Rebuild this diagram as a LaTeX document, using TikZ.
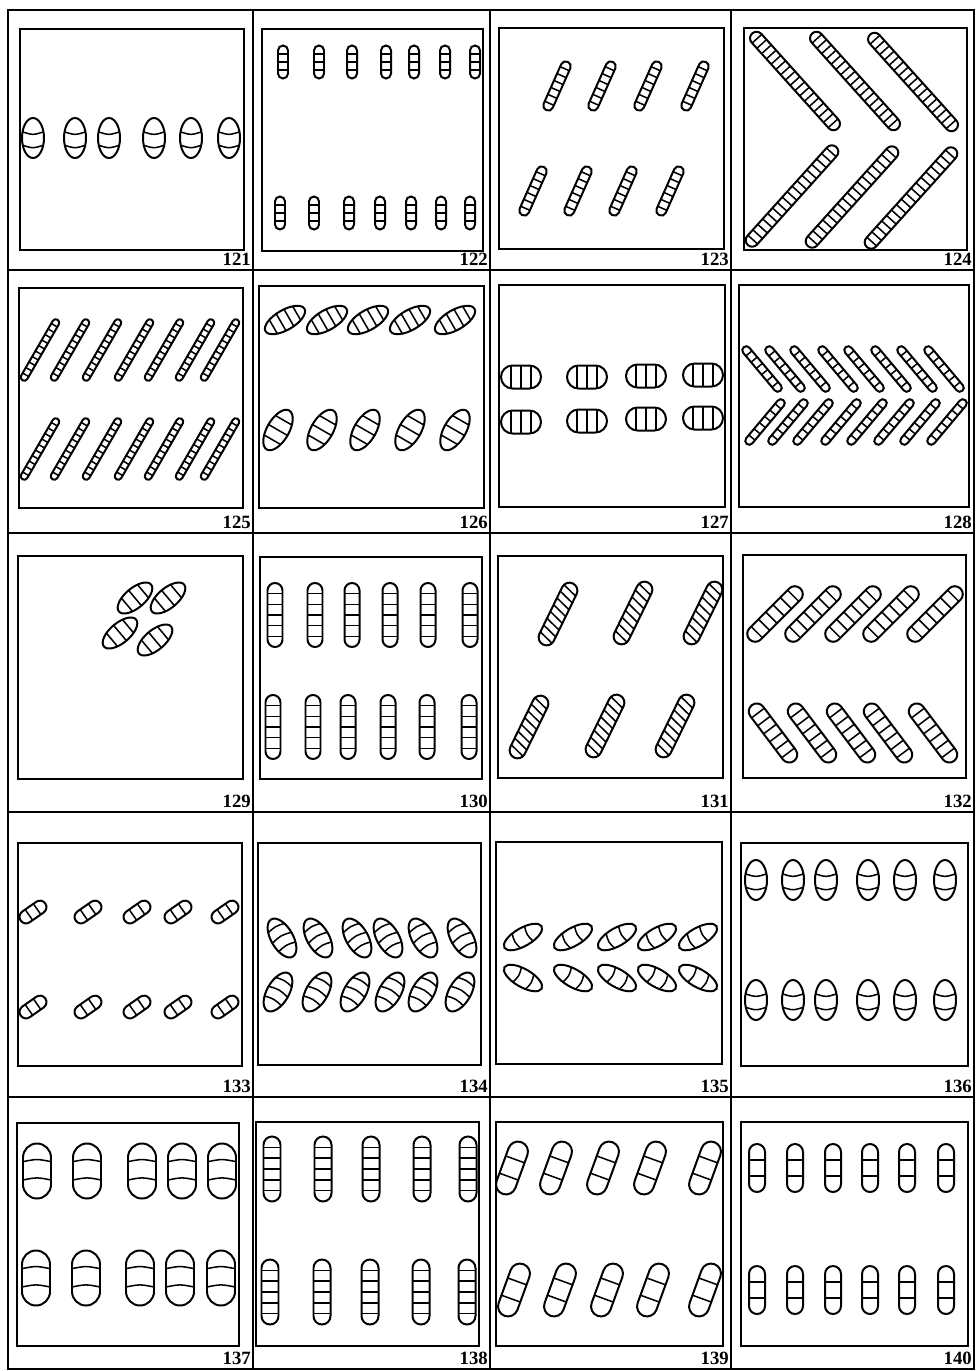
\documentclass[tikz,border=0pt]{standalone}
\usepackage{fontspec}
\setmainfont{Liberation Serif}

% stadium outline in local units
\newcommand{\pillpath}{(-\pA,-\pR) -- (\pA,-\pR) arc[start angle=-90, end angle=90, radius=\pR]
  -- (-\pA,\pR) arc[start angle=90, end angle=270, radius=\pR] -- cycle}

% x, y, angle, length, width, stripes, bend, slant
\newcommand{\pillglyph}[8]{%
  \begin{scope}[shift={(#1,#2)}, y=0.03cm, rotate=#3]
    \pgfmathsetmacro{\pA}{#4/2-#5/2}
    \pgfmathsetmacro{\pR}{#5/2}
    \begin{scope}
      \clip \pillpath;
      \foreach \k in {1,...,#6}{
        \pgfmathsetmacro{\pX}{-#4/2+\k*#4/(#6+1)}
        \pgfmathsetmacro{\pU}{\pX-(#8)}
        \pgfmathsetmacro{\pV}{\pX+(#8)}
        \pgfmathsetmacro{\pC}{\pX+(#7)}
        \pgfmathsetmacro{\pE}{\pR+1}
        \draw[stripe] (\pU,-\pE) .. controls (\pC,0) .. (\pV,\pE);
      }
    \end{scope}
    \draw[glyph] \pillpath;
  \end{scope}}

% x, y, angle, length, width, stripes, bend, slant
\newcommand{\eggglyph}[8]{%
  \begin{scope}[shift={(#1,#2)}, y=0.03cm, rotate=#3]
    \pgfmathsetmacro{\pL}{#4/2}
    \pgfmathsetmacro{\pR}{#5/2}
    \begin{scope}
      \clip (0,0) ellipse[x radius=\pL, y radius=\pR];
      \foreach \k in {1,...,#6}{
        \pgfmathsetmacro{\pX}{-#4/2+\k*#4/(#6+1)}
        \pgfmathsetmacro{\pU}{\pX-(#8)}
        \pgfmathsetmacro{\pV}{\pX+(#8)}
        \pgfmathsetmacro{\pC}{\pX+(#7)}
        \pgfmathsetmacro{\pE}{\pR+1}
        \draw[stripe] (\pU,-\pE) .. controls (\pC,0) .. (\pV,\pE);
      }
    \end{scope}
    \draw[glyph] (0,0) ellipse[x radius=\pL, y radius=\pR];
  \end{scope}}

\begin{document}
\begin{tikzpicture}[
    x=0.03cm, y=-0.03cm,
    grid/.style={line width=1.8pt},
    panel/.style={line width=1.7pt},
    glyph/.style={line width=1.7pt},
    stripe/.style={line width=1.3pt},
    num/.style={font=\bfseries\fontsize{16}{16}\selectfont, inner sep=0pt}
  ]

  \useasboundingbox (0,0) rectangle (977,1371);

  % =====================================================
  % GRID AND PANELS
  % =====================================================
  \draw[grid] (8,10) rectangle (974,1369);
  \foreach \x in {253,490,731} \draw[grid] (\x,10) -- (\x,1369);
  \foreach \y in {270,533,812,1097} \draw[grid] (8,\y) -- (974,\y);

  \foreach \xa/\ya/\xb/\yb in {20/29/244/250, 262/29/483/251, 499/28/724/249, 744/28/967/250,
      19/288/243/508, 259/286/484/508, 499/285/725/507, 739/285/969/507,
      18/556/243/779, 260/557/482/779, 498/556/723/778, 743/555/966/778,
      18/843/242/1066, 258/843/481/1065, 496/842/722/1064, 741/843/968/1066,
      17/1123/239/1346, 256/1122/479/1346, 496/1122/723/1346, 741/1122/968/1346}
    \draw[panel] (\xa,\ya) rectangle (\xb,\yb);

  \foreach \n/\xr/\yb in {121/253/270, 122/490/270, 123/731/270, 124/974/270,
      125/253/533, 126/490/533, 127/731/533, 128/974/533,
      129/253/812, 130/490/812, 131/731/812, 132/974/812,
      133/253/1097, 134/490/1097, 135/731/1097, 136/974/1097,
      137/253/1369, 138/490/1369, 139/731/1369, 140/974/1369}
    \node[num, anchor=base east] (n\n) at (\xr-2,\yb-5) {\n};

  % =====================================================
  % ROW 1
  % =====================================================
  % 121
  \foreach \x in {33,75,109,154,191,229}{
    \eggglyph{\x}{138}{90}{40}{22}{2}{-4}{0}
  }
  % 122
  \foreach \x in {283,319,352,386,414,445,475}{
    \pillglyph{\x}{62}{90}{33}{10}{3}{0}{0}
  }
  \foreach \x in {280,314,349,380,411,441,470}{
    \pillglyph{\x}{213}{90}{33}{10}{3}{0}{0}
  }
  % 123
  \foreach \x in {557,602,648,695}{
    \pillglyph{\x}{86}{66}{53}{10}{6}{0}{0}
  }
  \foreach \x in {533,578,623,670}{
    \pillglyph{\x}{191}{66}{53}{10}{6}{0}{0}
  }
  % 124
  \foreach \x/\y in {795/81, 855/81, 913/82}{
    \pillglyph{\x}{\y}{-48}{128}{13}{17}{0}{0}
  }
  \foreach \x/\y in {792/196, 852/197, 911/198}{
    \pillglyph{\x}{\y}{48}{132}{13}{17}{0}{0}
  }

  % =====================================================
  % ROW 2
  % =====================================================
  % 125
  \foreach \x in {40,70,102,134,164,195,220}{
    \pillglyph{\x}{350}{60}{70}{7}{10}{0}{0}
    \pillglyph{\x}{449}{60}{70}{7}{10}{0}{0}
  }
  % 126
  \foreach \x in {285,327,368,410,455}{
    \eggglyph{\x}{320}{30}{45}{20}{4}{0}{0}
  }
  \foreach \x in {278,322,365,410,455}{
    \eggglyph{\x}{430}{60}{45}{22}{3}{0}{0}
  }
  % 127
  \foreach \x/\y in {521/377, 587/377, 646/376, 703/375, 521/422, 587/421, 646/419, 703/418}{
    \pillglyph{\x}{\y}{0}{40}{23}{3}{0}{0}
  }
  % 128
  \foreach \x in {762,785,810,838,864,891,917,944}{
    \pillglyph{\x}{369}{-50}{57}{8}{6}{0}{0}
    \pillglyph{\x+3}{422}{50}{57}{8}{6}{0}{0}
  }

  % =====================================================
  % ROW 3
  % =====================================================
  % 129
  \foreach \x/\y in {135/598, 168/598, 120/633, 155/640}{
    \eggglyph{\x}{\y}{40}{42}{20}{3}{0}{0}
  }
  % 130
  \foreach \x in {275,315,352,390,428,470}{
    \pillglyph{\x}{615}{90}{64}{15}{5}{0}{0}
  }
  \foreach \x in {273,313,348,388,427,469}{
    \pillglyph{\x}{727}{90}{64}{15}{5}{0}{0}
  }
  % 131
  \foreach \x/\y in {558/614, 633/613, 703/613, 529/727, 605/726, 675/726}{
    \pillglyph{\x}{\y}{64}{68}{16}{8}{0}{3}
  }
  % 132
  \foreach \x in {775,813,853,891,935}{
    \pillglyph{\x}{614}{45}{72}{16}{6}{0}{0}
  }
  \foreach \x in {773,812,851,888,933}{
    \pillglyph{\x}{733}{-53}{70}{16}{6}{0}{0}
  }

  % =====================================================
  % ROW 4
  % =====================================================
  % 133
  \foreach \x in {33,88,137,178,225}{
    \pillglyph{\x}{912}{35}{30}{13}{2}{0}{0}
    \pillglyph{\x}{1007}{35}{30}{13}{2}{0}{0}
  }
  % 134
  \foreach \x in {282,318,357,388,423,462}{
    \eggglyph{\x}{938}{-60}{43}{22}{3}{-3}{0}
  }
  \foreach \x in {278,317,355,390,423,460}{
    \eggglyph{\x}{992}{60}{43}{22}{3}{3}{0}
  }
  % 135
  \foreach \x in {523,573,617,657,698}{
    \eggglyph{\x}{937}{30}{43}{18}{2}{-3}{0}
    \eggglyph{\x}{978}{-30}{43}{18}{2}{3}{0}
  }
  % 136
  \foreach \x in {756,793,826,868,905,945}{
    \eggglyph{\x}{880}{90}{40}{22}{2}{-4}{0}
    \eggglyph{\x}{1000}{90}{40}{22}{2}{-4}{0}
  }

  % =====================================================
  % ROW 5
  % =====================================================
  % 137
  \foreach \x in {37,87,142,182,222}{
    \pillglyph{\x}{1171}{90}{55}{28}{2}{3}{0}
  }
  \foreach \x in {36,86,140,180,221}{
    \pillglyph{\x}{1278}{90}{55}{28}{2}{3}{0}
  }
  % 138
  \foreach \x in {272,323,371,422,468}{
    \pillglyph{\x}{1169}{90}{65}{17}{5}{0}{0}
  }
  \foreach \x in {270,322,370,421,467}{
    \pillglyph{\x}{1292}{90}{65}{17}{5}{0}{0}
  }
  % 139
  \foreach \x in {512,556,603,650,705}{
    \pillglyph{\x}{1168}{70}{55}{20}{2}{0}{0}
  }
  \foreach \x in {514,560,607,653,705}{
    \pillglyph{\x}{1290}{70}{55}{20}{2}{0}{0}
  }
  % 140
  \foreach \x in {757,795,833,870,907,946}{
    \pillglyph{\x}{1168}{90}{48}{16}{2}{0}{0}
    \pillglyph{\x}{1290}{90}{48}{16}{2}{0}{0}
  }

\end{tikzpicture}
\end{document}
